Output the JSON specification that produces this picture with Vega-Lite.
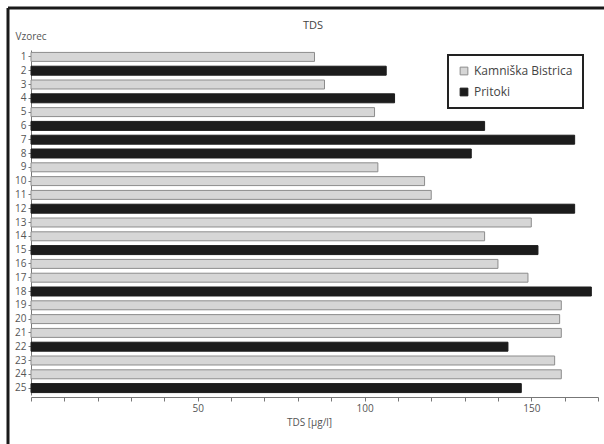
{
  "$schema": "https://vega.github.io/schema/vega-lite/v6.json",
  "autosize": {"type": "none"},
  "padding": {"left": 8, "top": 8, "right": 0, "bottom": 0},
  "width": 596,
  "height": 436,
  "background": "white",
  "config": {
    "view": {"stroke": "#1a1a1a", "strokeWidth": 3, "strokeDash": [596, 1032, 436, 0]},
    "font": "Open Sans"
  },
  "title": {"text": "TDS", "fontSize": 11, "fontWeight": "normal", "color": "#444", "offset": -23, "anchor": "start", "dx": 295},
  "data": {
    "values": [
      {"sample": 1, "group": "Kamniška Bistrica", "value": 85},
      {"sample": 2, "group": "Pritoki", "value": 106.5},
      {"sample": 3, "group": "Kamniška Bistrica", "value": 88},
      {"sample": 4, "group": "Pritoki", "value": 109},
      {"sample": 5, "group": "Kamniška Bistrica", "value": 103},
      {"sample": 6, "group": "Pritoki", "value": 136},
      {"sample": 7, "group": "Pritoki", "value": 163},
      {"sample": 8, "group": "Pritoki", "value": 132},
      {"sample": 9, "group": "Kamniška Bistrica", "value": 104},
      {"sample": 10, "group": "Kamniška Bistrica", "value": 118},
      {"sample": 11, "group": "Kamniška Bistrica", "value": 120},
      {"sample": 12, "group": "Pritoki", "value": 163},
      {"sample": 13, "group": "Kamniška Bistrica", "value": 150},
      {"sample": 14, "group": "Kamniška Bistrica", "value": 136},
      {"sample": 15, "group": "Pritoki", "value": 152},
      {"sample": 16, "group": "Kamniška Bistrica", "value": 140},
      {"sample": 17, "group": "Kamniška Bistrica", "value": 149},
      {"sample": 18, "group": "Pritoki", "value": 168},
      {"sample": 19, "group": "Kamniška Bistrica", "value": 159},
      {"sample": 20, "group": "Kamniška Bistrica", "value": 158.5},
      {"sample": 21, "group": "Kamniška Bistrica", "value": 159},
      {"sample": 22, "group": "Pritoki", "value": 143},
      {"sample": 23, "group": "Kamniška Bistrica", "value": 157},
      {"sample": 24, "group": "Kamniška Bistrica", "value": 159},
      {"sample": 25, "group": "Pritoki", "value": 147}
    ]
  },
  "mark": {"type": "bar", "strokeWidth": 1},
  "encoding": {
    "y": {
      "field": "sample",
      "type": "ordinal",
      "scale": {"range": [42, 387], "paddingInner": 0.35, "paddingOuter": 0.175},
      "axis": {
        "title": "Vzorec",
        "titleAngle": 0,
        "titleX": -16,
        "titleY": 28,
        "titleAlign": "left",
        "titleBaseline": "middle",
        "titleFontSize": 10,
        "titleFontWeight": "normal",
        "titleColor": "#555",
        "labelFontSize": 10,
        "labelColor": "#555",
        "labelPadding": 2,
        "tickSize": 3,
        "tickColor": "#777",
        "domainColor": "#777",
        "offset": -23
      }
    },
    "x": {
      "field": "value",
      "type": "quantitative",
      "scale": {"domain": [0, 170], "range": [23, 590], "nice": false},
      "axis": {
        "title": "TDS [μg/l]",
        "values": [0, 10, 20, 30, 40, 50, 60, 70, 80, 90, 100, 110, 120, 130, 140, 150, 160, 170],
        "labelExpr": "datum.value == 50 || datum.value == 100 || datum.value == 150 ? datum.label : ''",
        "offset": -47,
        "tickSize": 4,
        "tickColor": "#777",
        "domainColor": "#777",
        "labelPadding": 2,
        "labelFontSize": 10,
        "labelColor": "#555",
        "labelFlush": false,
        "grid": false,
        "titleX": 301,
        "titleY": 25,
        "titleBaseline": "middle",
        "titleFontSize": 10,
        "titleFontWeight": "normal",
        "titleColor": "#555"
      }
    },
    "color": {
      "field": "group",
      "type": "nominal",
      "scale": {"domain": ["Kamniška Bistrica", "Pritoki"], "range": ["#d6d6d6", "#1c1c1c"]},
      "legend": {
        "title": null,
        "orient": "none",
        "legendX": 440,
        "legendY": 47,
        "strokeColor": "#222",
        "fillColor": "white",
        "padding": 10,
        "labelFontSize": 12,
        "labelColor": "#444",
        "symbolType": "square",
        "symbolSize": 60,
        "rowPadding": 9,
        "symbolStrokeWidth": 1,
        "encode": {"legend": {"update": {"strokeWidth": {"value": 2}}}}
      }
    },
    "stroke": {
      "field": "group",
      "type": "nominal",
      "scale": {"domain": ["Kamniška Bistrica", "Pritoki"], "range": ["#8c8c8c", "#1c1c1c"]},
      "legend": {
        "title": null,
        "orient": "none",
        "legendX": 440,
        "legendY": 47
      }
    }
  }
}
